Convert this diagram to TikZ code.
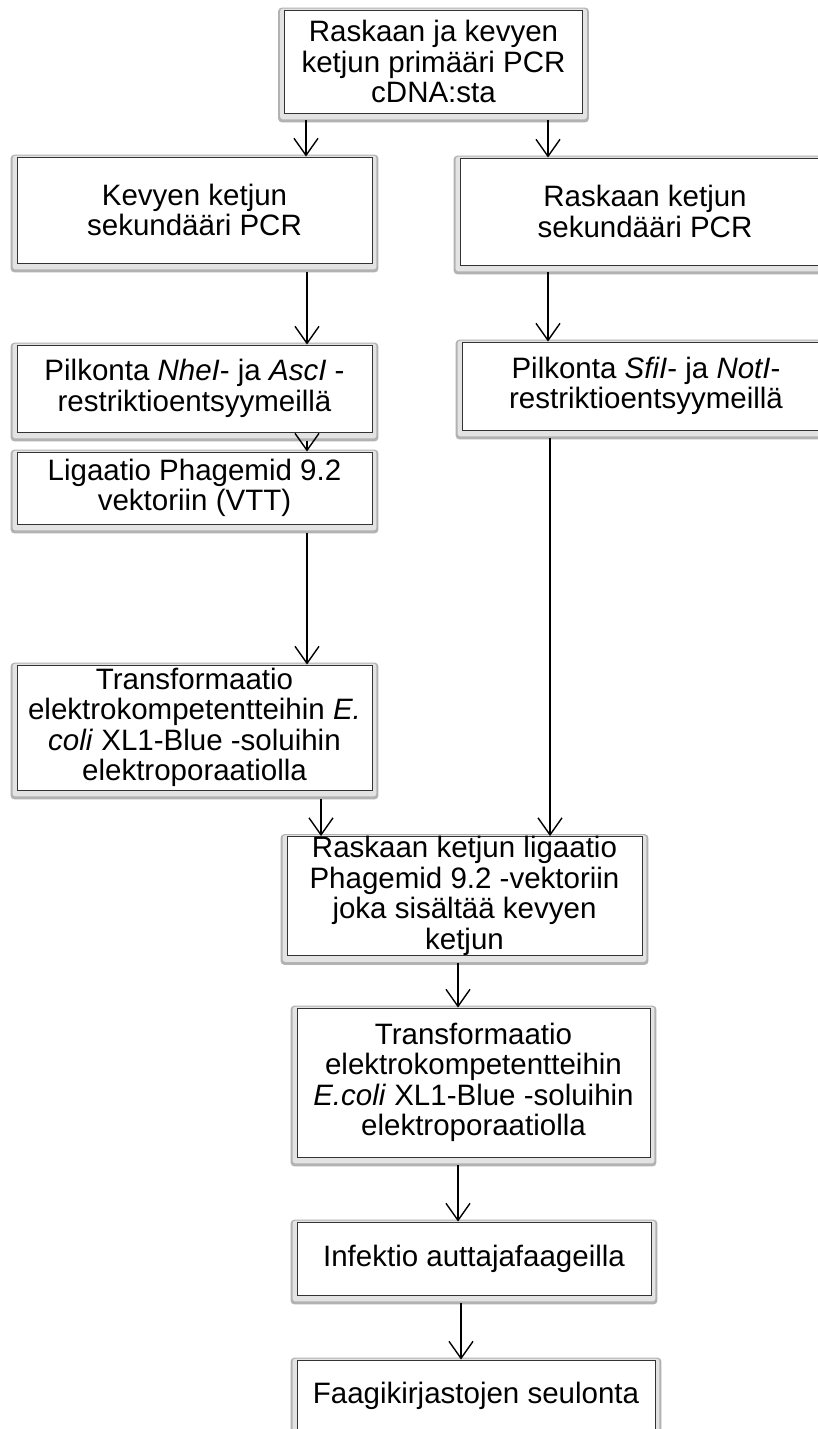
\documentclass[tikz,border=0pt]{standalone}
\usepackage{fontspec}
\setmainfont{Liberation Sans}
\usetikzlibrary{arrows.meta,backgrounds}
\begin{document}
\begin{tikzpicture}[x=1pt,y=-1pt,
  box/.style={draw=black!80, line width=0.9pt, fill=white, inner sep=0pt, align=center,
    font=\fontsize{29.5}{30.5}\selectfont},
  arr/.style={draw=black, line width=1.4pt, -{Straight Barb[length=17pt,width=24pt,line width=1.4pt]}},
  bevout/.style={fill=gray!60, rounded corners=4pt},
  bevin/.style={fill=gray!22, rounded corners=3pt}]
\useasboundingbox (0,0) rectangle (817,1429);

\node[box, minimum width=298pt, minimum height=103pt] (n1) at (433.5,61.5)
  {Raskaan ja kevyen\\ketjun primääri PCR\\cDNA:sta};
\node[box, minimum width=355pt, minimum height=106pt] (n2) at (194.5,210)
  {Kevyen ketjun\\sekundääri PCR};
\node[box, minimum width=370pt, minimum height=107pt] (n3) at (645,211.5)
  {Raskaan ketjun\\sekundääri PCR};
\node[box, minimum width=355pt, minimum height=87pt] (n4) at (194.5,388.5)
  {Pilkonta \textit{NheI}- ja \textit{AscI} -\\restriktioentsyymeillä};
\node[box, minimum width=368pt, minimum height=88pt] (n5) at (646,386)
  {Pilkonta \textit{SfiI}- ja \textit{NotI}-\\restriktioentsyymeillä};
\node[box, minimum width=355pt, minimum height=72pt] (n6) at (194.5,488)
  {Ligaatio Phagemid 9.2\\vektoriin (VTT)};
\node[box, minimum width=355pt, minimum height=125pt] (n7) at (194.5,727.5)
  {Transformaatio\\elektrokompetentteihin \textit{E.}\\\textit{coli} XL1-Blue -soluihin\\elektroporaatiolla};
\node[box, minimum width=355pt, minimum height=118pt] (n8) at (464.5,896)
  {Raskaan ketjun ligaatio\\Phagemid 9.2 -vektoriin\\joka sisältää kevyen\\ketjun};
\node[box, minimum width=353pt, minimum height=149pt] (n9) at (473.5,1082.5)
  {Transformaatio\\elektrokompetentteihin\\\textit{E.coli} XL1-Blue -soluihin\\elektroporaatiolla};
\node[box, minimum width=354pt, minimum height=73pt] (n10) at (474,1258.5)
  {Infektio auttajafaageilla};
\node[box, minimum width=358pt, minimum height=72pt] (n11) at (476,1396)
  {Faagikirjastojen seulonta};

\begin{scope}[on background layer]
\fill[white] (0,0) rectangle (817,1429);
\foreach \n in {n1,n2,n3,n4,n5,n6,n7,n8,n9,n10,n11}{
  \path[bevout] ([shift={(-6pt,2pt)}]\n.north west) rectangle ([shift={(6pt,-9pt)}]\n.south east);
  \path[bevin] ([shift={(-4pt,1pt)}]\n.north west) rectangle ([shift={(4pt,-6pt)}]\n.south east);
}
\end{scope}

\draw[arr] ([yshift=-7pt]n1.south -| 306,0) -- (n2.north -| 306,0);
\draw[arr] ([yshift=-7pt]n1.south -| 548,0) -- (n3.north -| 548,0);
\draw[arr] ([yshift=-9pt]n2.south -| 307,0) -- (n4.north -| 307,0);
\draw[arr] ([yshift=-7pt]n3.south -| 548,0) -- (n5.north -| 548,0);
\draw[arr] ([yshift=-9pt]n4.south -| 307,0) -- (n6.north -| 307,0);
\draw[arr] ([yshift=-9pt]n6.south -| 307,0) -- (n7.north -| 307,0);
\draw[arr] ([yshift=-8pt]n5.south -| 550,0) -- (n8.north -| 550,0);
\draw[arr] ([yshift=-9pt]n7.south -| 321,0) -- (n8.north -| 321,0);
\draw[arr] ([yshift=-7pt]n8.south -| 458,0) -- (n9.north -| 458,0);
\draw[arr] ([yshift=-8pt]n9.south -| 458,0) -- (n10.north -| 458,0);
\draw[arr] ([yshift=-8pt]n10.south -| 461,0) -- (n11.north -| 461,0);
\end{tikzpicture}
\end{document}
